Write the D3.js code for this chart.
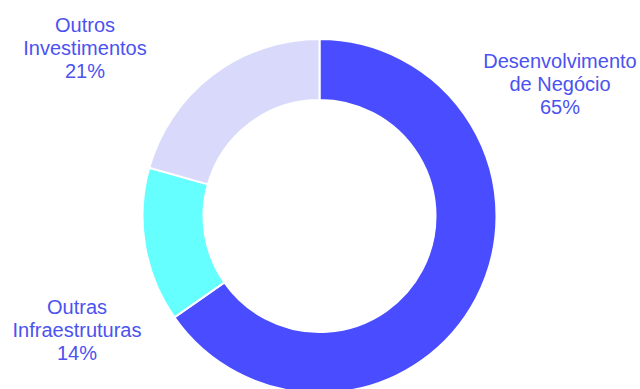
<!DOCTYPE html>
<html>
<head>
<meta charset="utf-8">
<script src="https://cdn.jsdelivr.net/npm/d3@7"></script>
<style>
  html, body { margin: 0; padding: 0; background: #ffffff; }
  svg { display: block; }
</style>
</head>
<body>
<script>
// Investment split by category (percent of total)
const categories = ["Desenvolvimento de Negócio", "Outras Infraestruturas", "Outros Investimentos"];
const labelLines = [["Desenvolvimento", "de Negócio"], ["Outras", "Infraestruturas"], ["Outros", "Investimentos"]];
const values = [65.3, 14.1, 20.6];
const colors = ["#4a4dff", "#66ffff", "#d9d9fb"];

// Label anchor points (x centre, first baseline) for each category
const labelAnchors = [[560, 68], [77, 314], [85, 32]];

const width = 640, height = 389;
const cx = 319.5, cy = 216;
const outerR = 177, innerR = 116;

const svg = d3.select("body").append("svg")
  .attr("width", width)
  .attr("height", height);

const pie = d3.pie().sort(null).value(d => d.value);
const arc = d3.arc().innerRadius(innerR).outerRadius(outerR);

const data = categories.map((c, i) => ({ name: c, value: values[i], color: colors[i], lines: labelLines[i], anchor: labelAnchors[i] }));

const g = svg.append("g").attr("transform", `translate(${cx},${cy})`);

g.selectAll("path")
  .data(pie(data))
  .join("path")
  .attr("d", arc)
  .attr("fill", d => d.data.color)
  .attr("stroke", "#ffffff")
  .attr("stroke-width", 2);

const total = d3.sum(values);
const labels = svg.selectAll("text.lbl")
  .data(data)
  .join("text")
  .attr("class", "lbl")
  .attr("text-anchor", "middle")
  .attr("font-family", "'Liberation Sans', Arial, sans-serif")
  .attr("font-size", 20)
  .attr("fill", "#4b52f0");

labels.each(function(d) {
  const t = d3.select(this);
  const rows = d.lines.concat([Math.round(d.value / total * 100) + "%"]);
  rows.forEach((r, i) => {
    t.append("tspan")
      .attr("x", d.anchor[0])
      .attr("y", d.anchor[1] + i * 23)
      .text(r);
  });
});
</script>
</body>
</html>
